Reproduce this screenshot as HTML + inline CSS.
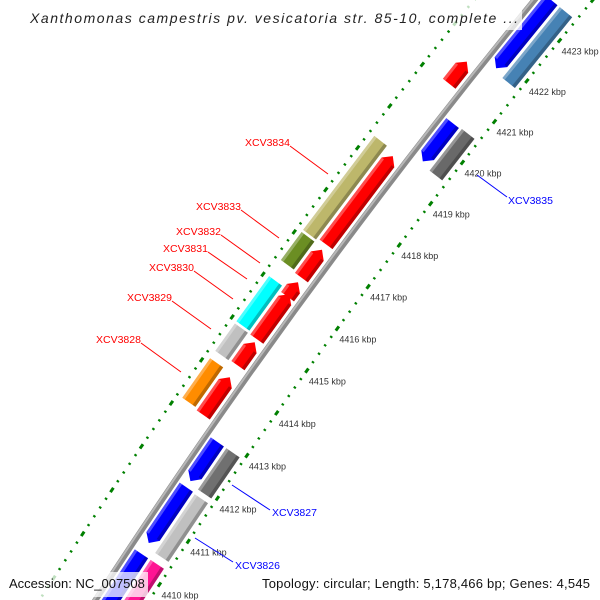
<!DOCTYPE html>
<html><head><meta charset="utf-8"><style>
html,body{margin:0;padding:0;background:#fff;overflow:hidden;width:600px;height:600px;}
svg{display:block;font-family:"Liberation Sans",sans-serif;overflow:hidden;}
</style></head><body>
<svg id="map" width="600" height="600" viewBox="0 0 600 600" xmlns="http://www.w3.org/2000/svg">
<g id="ticklabels"></g>
<g id="plot"></g>
<g id="labels">
 <line x1="290" y1="146" x2="328" y2="174" stroke="#f00" stroke-width="1"/>
 <text x="245" y="146" fill="#f00" font-size="10.5">XCV3834</text>
 <line x1="241" y1="210" x2="279" y2="238" stroke="#f00"/>
 <text x="196" y="210" fill="#f00" font-size="10.5">XCV3833</text>
 <line x1="221" y1="235" x2="260" y2="263" stroke="#f00"/>
 <text x="176" y="235" fill="#f00" font-size="10.5">XCV3832</text>
 <line x1="208" y1="252" x2="247" y2="279" stroke="#f00"/>
 <text x="163" y="252" fill="#f00" font-size="10.5">XCV3831</text>
 <line x1="194" y1="271" x2="233" y2="299" stroke="#f00"/>
 <text x="149" y="271" fill="#f00" font-size="10.5">XCV3830</text>
 <line x1="172" y1="301" x2="211" y2="329" stroke="#f00"/>
 <text x="127" y="301" fill="#f00" font-size="10.5">XCV3829</text>
 <line x1="141" y1="343" x2="181" y2="372" stroke="#f00"/>
 <text x="96" y="343" fill="#f00" font-size="10.5">XCV3828</text>
 <line x1="477" y1="175" x2="507" y2="197" stroke="#00f"/>
 <text x="508" y="204" fill="#00f" font-size="10.5">XCV3835</text>
 <line x1="232" y1="485" x2="270" y2="510" stroke="#00f"/>
 <text x="272" y="516" fill="#00f" font-size="10.5">XCV3827</text>
 <line x1="195" y1="538" x2="233" y2="562" stroke="#00f"/>
 <text x="235" y="569" fill="#00f" font-size="10.5">XCV3826</text>
</g>
<rect x="26" y="5" width="496" height="25" fill="#fff" opacity="0.75"/>
<text x="30" y="23" font-size="14" font-style="italic" fill="#222" textLength="488">Xanthomonas campestris pv. vesicatoria str. 85-10, complete ...</text>
<rect x="6" y="572" width="142" height="25" fill="#fff" opacity="0.75"/>
<text x="9" y="588" font-size="13" fill="#111">Accession: NC_007508</text>
<rect x="258" y="572" width="338" height="25" fill="#fff" opacity="0.75"/>
<text x="262" y="588" font-size="13" fill="#111" textLength="328">Topology: circular; Length: 5,178,466 bp; Genes: 4,545</text>
</svg>
<script>
const fwdGeneStart=[4421.03,4417.17,4416.38,4415.93,4414.93,4414.31,4413.16];
const fwdGeneEnd=[4421.57,4419.28,4417.04,4416.27,4415.99,4414.86,4414.04];
const fwdCogStart=[4417.13,4416.42,4414.98,4414.29,4413.20];
const fwdCogEnd=[4419.37,4417.08,4416.04,4414.93,4414.12];
const fwdCogColor=["#bdb76b","#6b8e23","#00ffff","#c0c0c0","#ff8c00"];
const revGeneStart=[4421.82,4419.55,4411.98,4410.55,4408.5];
const revGeneEnd=[4423.5,4420.48,4412.89,4411.84,4410.30];
const revCogStart=[4421.75,4419.49,4411.93,4410.46,4408.5];
const revCogEnd=[4423.5,4420.50,4412.89,4411.82,4410.30];
const revCogColor=["#4682b4","#696969","#707070","#c0c0c0","#ff1493"];
const tickKbp=[4410,4411,4412,4413,4414,4415,4416,4417,4418,4419,4420,4421,4422,4423];
const tickLabels=["4410 kbp","4411 kbp","4412 kbp","4413 kbp","4414 kbp","4415 kbp","4416 kbp","4417 kbp","4418 kbp","4419 kbp","4420 kbp","4421 kbp","4422 kbp","4423 kbp"];

const NS="http://www.w3.org/2000/svg";
const CX=5792,CY=4308,G0=4413,A0=34.79,K=0.441;
function pt(g,r){const a=(A0+(g-G0)*K)*Math.PI/180;return [CX-r*Math.cos(a),CY-r*Math.sin(a)];}
const plot=document.getElementById('plot');
const tl=document.getElementById('ticklabels');
function mk(tag,attrs,parent){const e=document.createElementNS(NS,tag);for(const k in attrs)e.setAttribute(k,attrs[k]);(parent||plot).appendChild(e);return e;}
function poly(pts){return pts.map(p=>p[0].toFixed(1)+","+p[1].toFixed(1)).join(" ");}

// tick labels (drawn beneath features)
tickKbp.forEach((g,i)=>{
  const p=pt(g,6752);
  const t=mk('text',{x:p[0]+2,y:p[1]+14,"font-size":"9",fill:"#333"},tl);
  t.textContent=tickLabels[i];
  
  
});

// backbone
const RB=6797;
const bb=mk('circle',{cx:CX,cy:CY,r:RB,fill:"none",stroke:"#8a8a8a","stroke-width":6});


const bb2=mk('circle',{cx:CX,cy:CY,r:RB+1.5,fill:"none",stroke:"#b8b8b8","stroke-width":2});



// ticks
function tickRow(r,name){
  for(let i=0;i<=80;i++){
    const g=4408+i*0.2;
    const major=(i%5===0);
    const h=major?0.05:0.02;
    const a=pt(g-h,r),b=pt(g+h,r);
    const t=mk('line',{x1:a[0],y1:a[1],x2:b[0],y2:b[1],stroke:"#008000","stroke-width":major?3:2.6});
    
    
  }
}
tickRow(6752,'inner-ruler');
tickRow(6844,'outer-ruler');

function bar(g1,g2,rin,rout,color,dir,name){
  const hl=Math.min(0.15,(g2-g1)*0.5);
  let pts;
  if(dir>0){pts=[pt(g1,rin),pt(g1,rout),pt(g2-hl,rout),pt(g2,(rin+rout)/2),pt(g2-hl,rin)];}
  else if(dir<0){pts=[pt(g2,rin),pt(g2,rout),pt(g1+hl,rout),pt(g1,(rin+rout)/2),pt(g1+hl,rin)];}
  else{pts=[pt(g1,rin),pt(g1,rout),pt(g2,rout),pt(g2,rin)];}
  const p=mk('polygon',{points:poly(pts),fill:color});
  
  
  const b1=dir<0?g1+hl:g1, b2=dir>0?g2-hl:g2;
  const s=mk('polygon',{points:poly([pt(b1,rin),pt(b1,rin+3.5),pt(b2,rin+3.5),pt(b2,rin)]),fill:"#000",opacity:"0.25"});
  
  
  const h=mk('polygon',{points:poly([pt(b1,rout-3),pt(b1,rout),pt(b2,rout),pt(b2,rout-3)]),fill:"#fff",opacity:"0.3"});
  
  
}
fwdGeneStart.forEach((s,i)=>bar(s,fwdGeneEnd[i],6803,6819,"#ff0000",1,'forward-gene-'+i));
fwdCogStart.forEach((s,i)=>bar(s,fwdCogEnd[i],6822,6838,fwdCogColor[i],0,'forward-cog-'+i));
revGeneStart.forEach((s,i)=>bar(s,revGeneEnd[i],6776,6792,"#0000ff",-1,'reverse-gene-'+i));
revCogStart.forEach((s,i)=>bar(s,revCogEnd[i],6757,6773,revCogColor[i],0,'reverse-cog-'+i));
</script>
</body></html>
